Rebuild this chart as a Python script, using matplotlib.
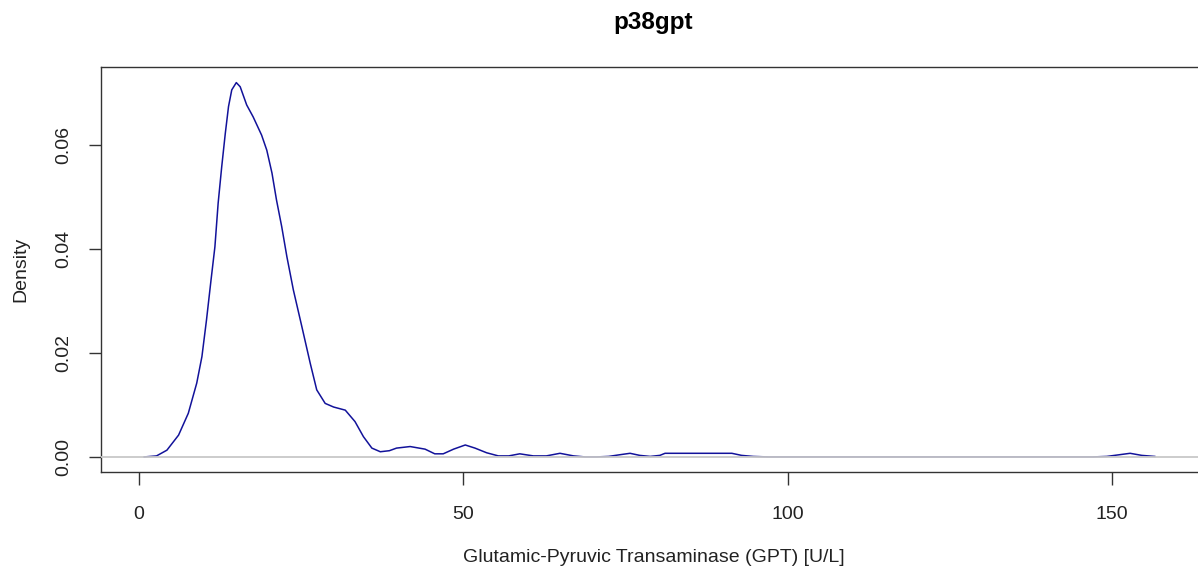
import matplotlib
matplotlib.use("Agg")
import matplotlib.pyplot as plt

# Kernel density estimate of GPT, read as (value, density) pairs
gpt_u_per_l = [0.8, 2.7, 4.3, 6.1, 7.6, 8.9, 9.7, 10.4, 11.1, 11.7, 12.2, 12.75,
               13.3, 13.8, 14.3, 15.0, 15.6, 16.6, 17.6, 18.9, 19.7, 20.5, 21.2,
               22.0, 22.8, 23.8, 25.1, 26.4, 27.4, 28.7, 30.0, 31.8, 33.3, 34.6,
               35.9, 37.2, 38.6, 39.7, 41.8, 44.1, 45.6, 46.9, 48.5, 50.3, 51.8,
               53.6, 55.4, 57.0, 58.7, 60.8, 62.8, 64.9, 67.0, 68.8, 70.5, 72.4,
               74.0, 75.7, 77.2, 78.8, 80.3, 81.1, 86.0, 91.4, 92.9, 94.7, 97.0,
               120.0, 147.0, 149.2, 151.0, 152.8, 154.6, 156.6]
density = [0.0, 0.0002, 0.0013, 0.0042, 0.0084, 0.0142, 0.0193, 0.0263, 0.0340,
           0.0404, 0.0488, 0.0558, 0.0622, 0.0674, 0.0706, 0.0720, 0.0712, 0.0677,
           0.0654, 0.0619, 0.0590, 0.0546, 0.0494, 0.0443, 0.0385, 0.0321, 0.0251,
           0.0180, 0.0129, 0.0103, 0.0096, 0.0090, 0.0068, 0.0039, 0.0017, 0.0010,
           0.0012, 0.0017, 0.0020, 0.0015, 0.0006, 0.0006, 0.0015, 0.0023, 0.0017,
           0.0008, 0.0002, 0.0002, 0.0006, 0.0002, 0.0002, 0.0007, 0.0002, 0.0000,
           0.0, 0.0001, 0.0004, 0.0007, 0.0003, 0.0001, 0.0003, 0.0007, 0.0007,
           0.0007, 0.0003, 0.0001, 0.0, 0.0, 0.0, 0.0001, 0.0004, 0.0007, 0.0003,
           0.0001]

x_ticks = [0, 50, 100, 150]
y_ticks = [0.00, 0.02, 0.04, 0.06]
y_tick_labels = ["0.00", "0.02", "0.04", "0.06"]

plt.rcParams["font.family"] = ["Liberation Sans", "DejaVu Sans"]

W, H = 1198, 569
fig = plt.figure(figsize=(W / 100, H / 100), dpi=100)
left_px, right_px, top_px, bottom_px = 101, 1206, 67, 471.5
ax = fig.add_axes([left_px / W, 1 - bottom_px / H,
                   (right_px - left_px) / W, (bottom_px - top_px) / H])

ax.plot(gpt_u_per_l, density, color="#12129a", lw=1.1, zorder=2)
ax.axhline(0, color="#C8C8C8", lw=1.3, zorder=3)

ax.set_xlim(-5.86, 164.5)
ax.set_ylim(-0.0028, 0.075)

ax.set_xticks(x_ticks)
ax.set_xticklabels([str(t) for t in x_ticks])
ax.set_yticks(y_ticks)
ax.set_yticklabels(y_tick_labels, rotation=90, va="center")

ax.tick_params(axis="both", direction="out", length=9, width=1.0,
               color="#333333", labelsize=14, labelcolor="#222222")
ax.tick_params(axis="x", pad=15.5)
ax.tick_params(axis="y", pad=11.5)

for side, sp in ax.spines.items():
    sp.set_color("#333333")
    sp.set_linewidth(1.0)

ax.set_xlabel("Glutamic-Pyruvic Transaminase (GPT) [U/L]", fontsize=14,
              color="#222222", labelpad=19)
ax.set_ylabel("Density", fontsize=14, color="#222222", labelpad=19)
ax.set_title("p38gpt", fontsize=17.5, fontweight="bold", pad=27)

fig.savefig("out.png", dpi=100)
